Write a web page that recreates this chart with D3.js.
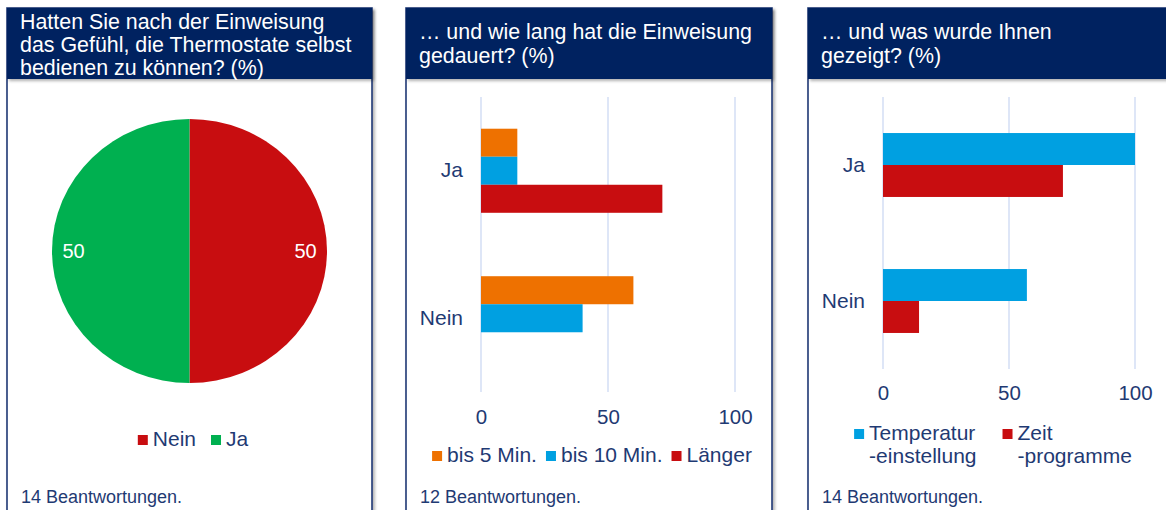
<!DOCTYPE html>
<html>
<head>
<meta charset="utf-8">
<script src="https://cdn.jsdelivr.net/npm/d3@7"></script>
<style>
  html, body { margin: 0; padding: 0; background: #fff; }
  svg { display: block; font-family: "Liberation Sans", Arial, sans-serif; }
</style>
</head>
<body>
<svg id="chart" width="1166" height="510"></svg>
<script>
// ---------- data ----------
const pieCategories = ["Nein", "Ja"];
const pieValues = [50, 50];

const durationCategories = ["Ja", "Nein"];
const durationSeries = ["bis 5 Min.", "bis 10 Min.", "Länger"];
const durationBis5 = [14.3, 60];
const durationBis10 = [14.3, 40];
const durationLaenger = [71.4, 0];

const shownCategories = ["Ja", "Nein"];
const shownSeries = ["Temperatur\n-einstellung", "Zeit\n-programme"];
const shownTemperatur = [100, 57.1];
const shownZeit = [71.4, 14.3];

const axisTicks = [0, 50, 100];

const titles = [
  ["Hatten Sie nach der Einweisung", "das Gefühl, die Thermostate selbst", "bedienen zu können? (%)"],
  ["… und wie lang hat die Einweisung", "gedauert? (%)"],
  ["… und was wurde Ihnen", "gezeigt? (%)"]
];
const footers = ["14 Beantwortungen.", "12 Beantwortungen.", "14 Beantwortungen."];

// ---------- styles ----------
const NAVY = "#002060";
const TEXT = "#1F3A73";
const RED = "#C80D10";
const GREEN = "#00B050";
const ORANGE = "#EE7100";
const BLUE = "#00A0E1";
const GRID = "#D3DEF5";

const svg = d3.select("#chart");
const defs = svg.append("defs");
const f = defs.append("filter").attr("id", "shadow").attr("x", "-5%").attr("y", "-5%").attr("width", "115%").attr("height", "120%");
f.append("feDropShadow").attr("dx", 2).attr("dy", 2).attr("stdDeviation", 1.5).attr("flood-color", "#000").attr("flood-opacity", 0.3);

const panels = [
  { x0: 7, x1: 372, titleX: 20, baselines: [29, 52, 75] },
  { x0: 406, x1: 772, titleX: 419, baselines: [39, 63] },
  { x0: 808, x1: 1180, titleX: 821, baselines: [39, 63] }
];

panels.forEach((p, i) => {
  svg.append("rect").attr("x", p.x0).attr("y", 8).attr("width", p.x1 - p.x0).attr("height", 520)
    .attr("fill", "#fff").attr("stroke", "#1F3A75").attr("stroke-width", 1.6).attr("filter", "url(#shadow)");
  svg.append("rect").attr("x", p.x0).attr("y", 8).attr("width", p.x1 - p.x0).attr("height", 71)
    .attr("fill", NAVY).attr("filter", "url(#shadow)");
  const t = svg.append("text").attr("fill", "#fff").attr("font-size", 21.4);
  titles[i].forEach((line, k) => {
    t.append("tspan").attr("x", p.titleX).attr("y", p.baselines[k]).text(line);
  });
  svg.append("text").attr("x", p.titleX + 1).attr("y", 503).attr("fill", TEXT)
    .attr("font-size", 18).text(footers[i]);
});

// ---------- legend helper ----------
function legend(items, colors, cx, y, gap) {
  const g = svg.append("g");
  const parts = items.map((name, i) => {
    const ig = g.append("g");
    ig.append("rect").attr("width", 10).attr("height", 10).attr("y", -11).attr("fill", colors[i]);
    const lines = name.split("\n");
    const tx = ig.append("text").attr("fill", TEXT).attr("font-size", 21);
    lines.forEach((l, k) => tx.append("tspan").attr("x", 15).attr("y", k * 23).text(l));
    const w = 15 + d3.max(tx.selectAll("tspan").nodes(), n => n.getComputedTextLength());
    return { ig, w };
  });
  const total = d3.sum(parts, d => d.w) + gap * (parts.length - 1);
  let x = cx - total / 2;
  parts.forEach(d => {
    d.ig.attr("transform", `translate(${x},${y})`);
    x += d.w + gap;
  });
}

// ---------- panel 1: pie ----------
{
  const cx = 189.5, cy = 251, r = 137.5, squash = 0.96;
  const pie = d3.pie().sort(null).value(d => d)(pieValues);
  const arc = d3.arc().innerRadius(0).outerRadius(r);
  const labelArc = d3.arc().innerRadius(116).outerRadius(116);
  const g = svg.append("g").attr("transform", `translate(${cx},${cy})`);
  const colors = [RED, GREEN];
  g.append("g").attr("transform", `scale(1,${squash})`)
    .selectAll("path").data(pie).join("path").attr("d", arc).attr("fill", (d, i) => colors[i]);
  g.selectAll("text").data(pie).join("text")
    .attr("transform", d => `translate(${labelArc.centroid(d)})`)
    .attr("text-anchor", "middle").attr("dy", "0.35em")
    .attr("fill", "#fff").attr("font-size", 20)
    .text(d => d.data);
  legend(pieCategories, colors, 193, 446, 15);
}

// ---------- bar panel helper ----------
function barPanel(opts) {
  const { categories, seriesValues, colors, xRange, yRange, padding, tickPad } = opts;
  const x = d3.scaleLinear().domain([0, 100]).range(xRange);
  const y = d3.scaleBand().domain(categories).range(yRange).paddingInner(padding).paddingOuter(padding / 2);
  const sub = d3.scaleBand().domain(d3.range(seriesValues.length)).range([0, y.bandwidth()]);

  svg.append("g").selectAll("line").data(axisTicks).join("line")
    .attr("x1", d => x(d)).attr("x2", d => x(d))
    .attr("y1", yRange[0]).attr("y2", yRange[1])
    .attr("stroke", GRID).attr("stroke-width", 1.5);

  seriesValues.forEach((vals, s) => {
    svg.append("g").selectAll("rect").data(categories).join("rect")
      .attr("x", x(0))
      .attr("y", c => y(c) + sub(s))
      .attr("width", (c, i) => x(vals[i]) - x(0))
      .attr("height", sub.bandwidth())
      .attr("fill", colors[s]);
  });

  const xa = svg.append("g").attr("transform", `translate(0,${yRange[1]})`)
    .call(d3.axisBottom(x).tickValues(axisTicks).tickSize(0).tickPadding(tickPad));
  xa.select(".domain").remove();
  xa.selectAll("text").attr("fill", TEXT).attr("font-size", 20.5).attr("font-family", "Liberation Sans, Arial, sans-serif");

  const ya = svg.append("g").attr("transform", `translate(${xRange[0]},0)`)
    .call(d3.axisLeft(y).tickSize(0).tickPadding(18));
  ya.select(".domain").remove();
  ya.selectAll("text").attr("fill", TEXT).attr("font-size", 21).attr("font-family", "Liberation Sans, Arial, sans-serif");
}

// ---------- panel 2 ----------
barPanel({
  categories: durationCategories,
  seriesValues: [durationBis5, durationBis10, durationLaenger],
  colors: [ORANGE, BLUE, RED],
  xRange: [481, 735],
  yRange: [97, 392],
  padding: 0.43,
  tickPad: 17
});
legend(durationSeries, [ORANGE, BLUE, RED], 592, 462, 9);

// ---------- panel 3 ----------
barPanel({
  categories: shownCategories,
  seriesValues: [shownTemperatur, shownZeit],
  colors: [BLUE, RED],
  xRange: [883, 1135],
  yRange: [97, 369],
  padding: 0.53,
  tickPad: 16
});
legend(shownSeries, [BLUE, RED], 993, 440, 26);
</script>
</body>
</html>
